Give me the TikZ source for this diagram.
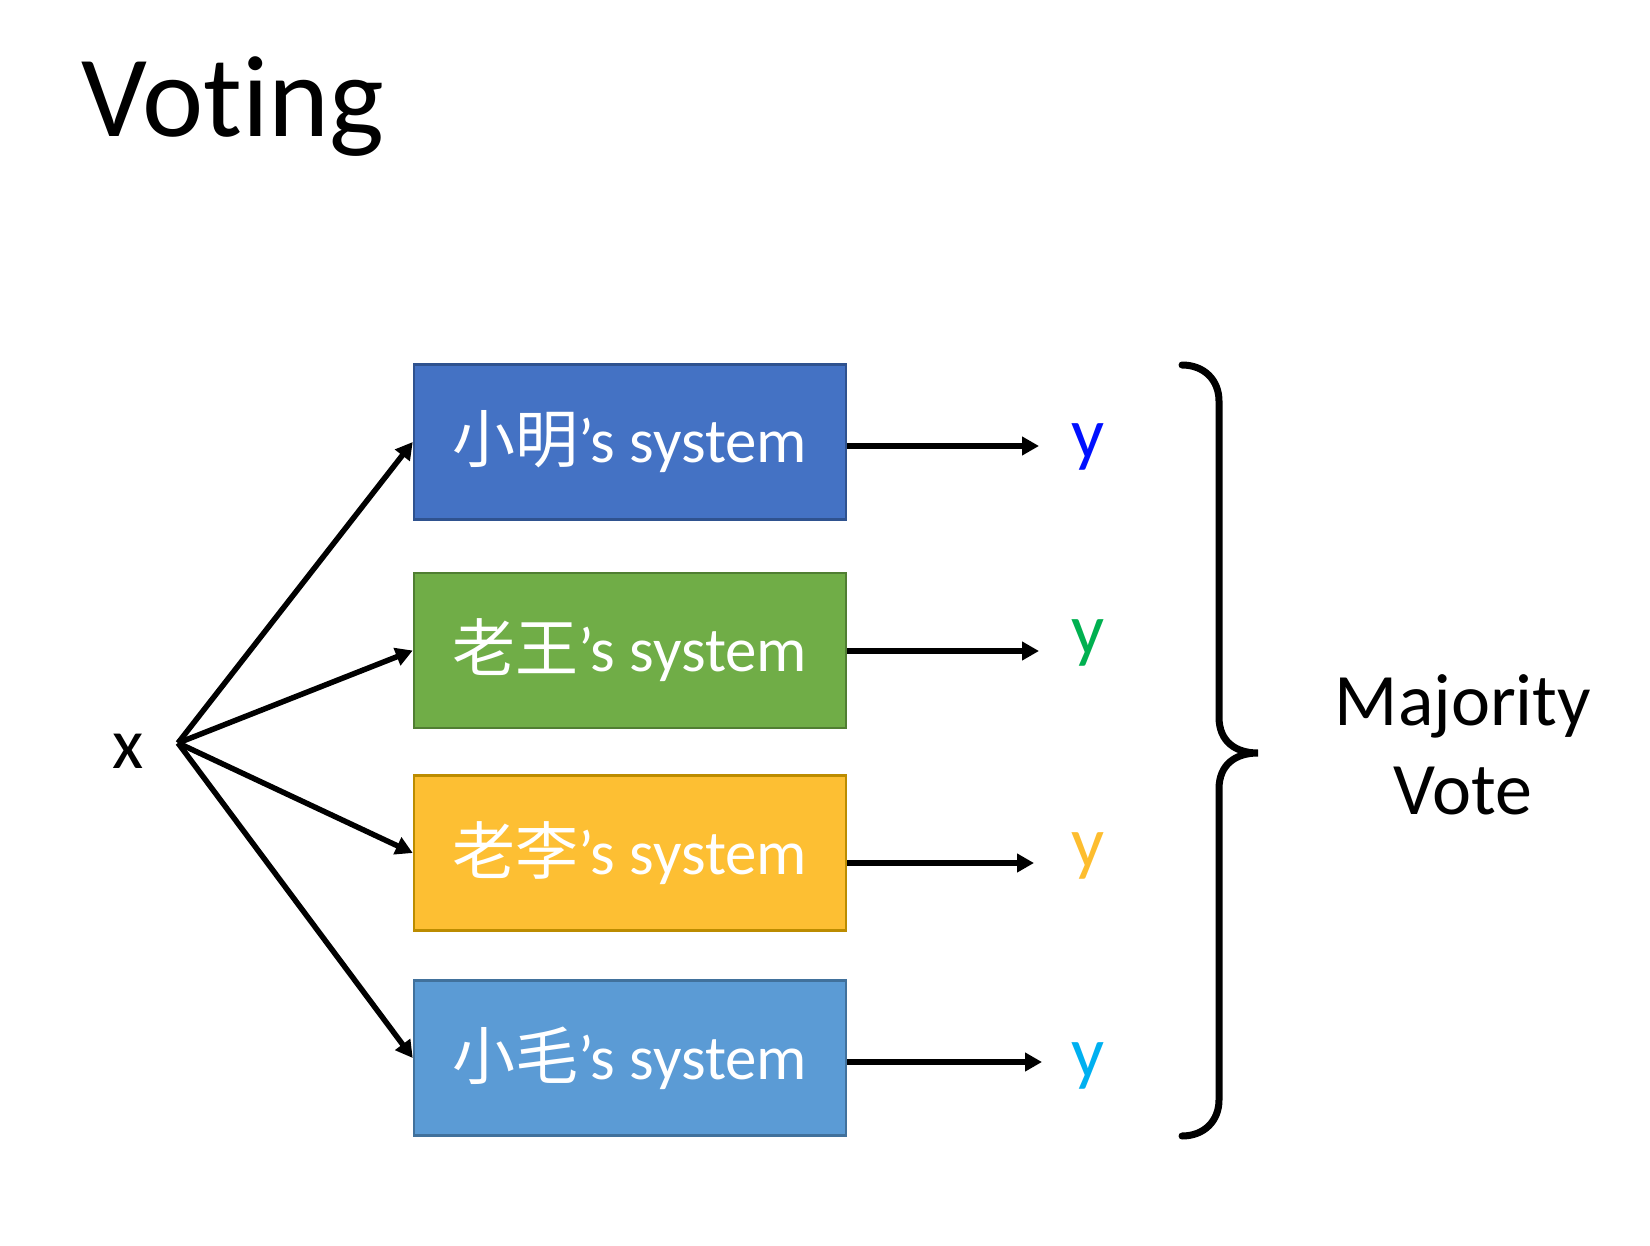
\documentclass[tikz,border=0pt]{standalone}
\usepackage{fontspec}
\setmainfont{Carlito}[Ligatures=NoCommon]
\newfontfamily\cjk{Noto Sans CJK SC}
\usetikzlibrary{arrows.meta}
\definecolor{b1fill}{HTML}{4472C4}\definecolor{b1line}{HTML}{2F528F}
\definecolor{b2fill}{HTML}{70AD47}\definecolor{b2line}{HTML}{507E32}
\definecolor{b3fill}{HTML}{FDBF33}\definecolor{b3line}{HTML}{BC8C00}
\definecolor{b4fill}{HTML}{5B9BD5}\definecolor{b4line}{HTML}{41719C}
\definecolor{yblue}{HTML}{0010FF}
\definecolor{ygreen}{HTML}{00B050}
\definecolor{ygold}{HTML}{FDBD2F}
\definecolor{ycyan}{HTML}{00B0F0}
\tikzset{
  sysbox/.style={draw, line width=2.5pt, minimum width=432pt, minimum height=155pt,
    inner sep=0pt, text=white, font=\fontsize{63}{70}\selectfont},
  arr/.style={line width=5.5pt, -{Triangle[length=17pt,width=18pt]}},
  ylab/.style={anchor=base, inner sep=0pt, font=\fontsize{73}{80}\selectfont},
  brace/.style={line width=7pt, line cap=round}
}
\begin{document}
\begin{tikzpicture}[x=1pt,y=-1pt]
\useasboundingbox (0,0) rectangle (1650,1246);
\node[anchor=base west, inner sep=0pt, font=\fontsize{116}{130}\selectfont] (title) at (81,137) {Voting};

\node[sysbox, fill=b1fill, draw=b1line] (b1) at (630,442) {{\cjk 小明}’s system};
\node[sysbox, fill=b2fill, draw=b2line] (b2) at (630,650.5) {{\cjk 老王}’s system};
\node[sysbox, fill=b3fill, draw=b3line] (b3) at (630,853) {{\cjk 老李}’s system};
\node[sysbox, fill=b4fill, draw=b4line] (b4) at (630,1058) {{\cjk 小毛}’s system};

\node[anchor=base, inner sep=0pt, font=\fontsize{72}{80}\selectfont] (xl) at (128.5,768) {x};
\coordinate (xo) at (178,743);
\draw[arr] (xo) -- (b1.west);
\draw[arr] (xo) -- (b2.west);
\draw[arr] (xo) -- (b3.west);
\draw[arr] (xo) -- (b4.west);

\coordinate (e1) at (1039,446);
\coordinate (e2) at (1039,651);
\coordinate (e3) at (1034,863);
\coordinate (e4) at (1042,1062);
\draw[arr] (b1.east |- e1) -- (e1);
\draw[arr] (b2.east |- e2) -- (e2);
\draw[arr] (b3.east |- e3) -- (e3);
\draw[arr] (b4.east |- e4) -- (e4);

\node[ylab, text=yblue] (y1) at (1088,459) {y};
\node[ylab, text=ygreen] (y2) at (1088,654) {y};
\node[ylab, text=ygold] (y3) at (1088,867) {y};
\node[ylab, text=ycyan] (y4) at (1088,1077) {y};

\draw[brace] (1182,365) .. controls (1204,365) and (1219,380) .. (1219,401)
  -- (1219,717) .. controls (1219,742) and (1236,753) .. (1258,753)
  .. controls (1236,753) and (1219,764) .. (1219,789)
  -- (1219,1100) .. controls (1219,1121) and (1204,1136) .. (1182,1136);

\node[anchor=base, inner sep=0pt, font=\fontsize{74}{89}\selectfont] (maj) at (1463,725) {Majority};
\node[anchor=base, inner sep=0pt, font=\fontsize{74}{89}\selectfont] (vote) at (1463,814) {Vote};
\end{tikzpicture}
\end{document}
